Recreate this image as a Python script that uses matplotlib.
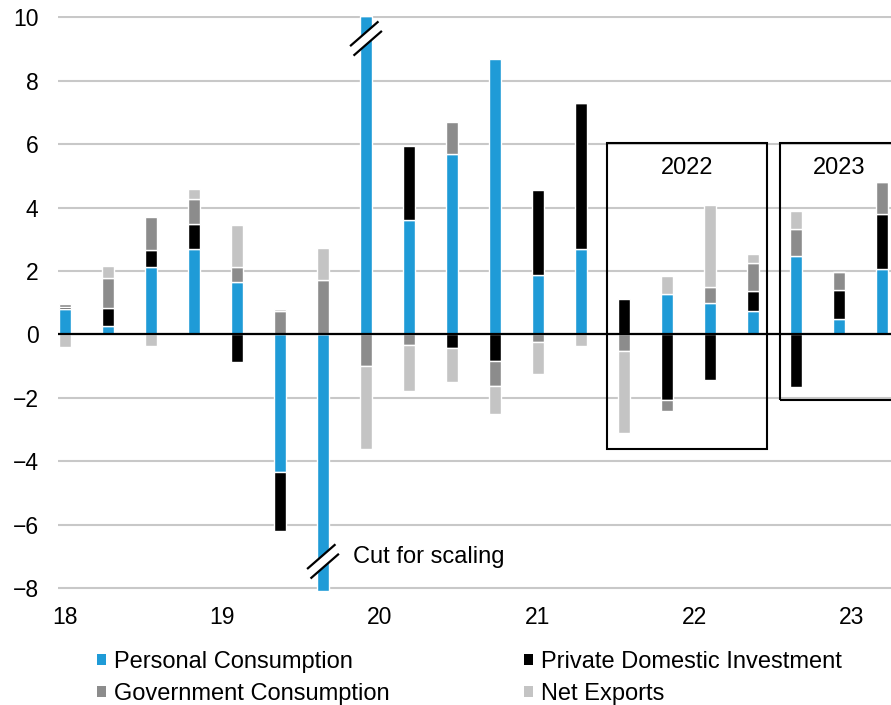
import numpy as np
import matplotlib
matplotlib.use('Agg')
import matplotlib.pyplot as plt
from matplotlib.patches import Patch, Rectangle, Polygon

plt.rcParams['font.family'] = ['Liberation Sans', 'DejaVu Sans']

# quarters shown, 2018Q4 .. 2023Q3 (contributions to GDP growth, pp)
quarters = ['2018Q4', '2019Q1', '2019Q2', '2019Q3', '2019Q4',
            '2020Q1', '2020Q2', '2020Q3', '2020Q4',
            '2021Q1', '2021Q2', '2021Q3', '2021Q4',
            '2022Q1', '2022Q2', '2022Q3', '2022Q4',
            '2023Q1', '2023Q2', '2023Q3']

# 2020Q2 / 2020Q3 personal consumption is cut at the axis limits
personal = [0.79, 0.27, 2.11, 2.69, 1.66, -4.33, -8.1, 10.05, 3.60, 5.68,
            8.69, 1.86, 2.68, 0.0, 1.26, 1.00, 0.73, 2.48, 0.48, 2.05]
investment = [0.06, 0.57, 0.54, 0.79, -0.88, -1.87, 0.0, 0.0, 2.35, -0.44,
              -0.83, 2.69, 4.62, 1.10, -2.07, -1.43, 0.63, -1.67, 0.92, 1.75]
government = [0.12, 0.95, 1.06, 0.79, 0.47, 0.73, 1.73, -1.00, -0.33, 1.03,
              -0.80, -0.24, 0.0, -0.53, -0.35, 0.50, 0.90, 0.83, 0.58, 1.00]
net_exports = [-0.41, 0.36, -0.37, 0.32, 1.32, 0.08, 1.00, -2.60, -1.45, -1.05,
               -0.87, -1.02, -0.36, -2.59, 0.58, 2.58, 0.26, 0.59, 0.0, 0.0]

series_names = ['Personal Consumption', 'Private Domestic Investment',
                'Government Consumption', 'Net Exports']
colors = ['#1f9bd7', '#000000', '#8c8c8c', '#c4c4c4']

year_labels = ['18', '19', '20', '21', '22', '23']
year_tick_pos = [0, 3.66, 7.32, 10.98, 14.64, 18.3]

x = np.arange(len(quarters))

fig = plt.figure(figsize=(8.91, 7.05), dpi=100)
ax = fig.add_axes([58 / 891, 1 - 591.2 / 705, 1 - 58 / 891, (591.2 - 15.7) / 705])

pos_base = np.zeros(len(x))
neg_base = np.zeros(len(x))
for vals, col in zip([personal, investment, government, net_exports], colors):
    v = np.array(vals)
    base = np.where(v >= 0, pos_base, neg_base)
    ax.bar(x, v, width=0.28, bottom=base, color=col, edgecolor='white',
           linewidth=1.0, zorder=2)
    pos_base += np.where(v > 0, v, 0)
    neg_base += np.where(v < 0, v, 0)

ax.set_xlim(-0.163, 19.21)
ax.set_ylim(-8.1, 10.05)
ax.set_yticks(range(-8, 11, 2))
ax.yaxis.grid(True, color='#c8c8c8', linewidth=1.5, zorder=0)
ax.set_axisbelow(True)
ax.axhline(0, color='black', linewidth=1.6, zorder=3)
for s in ax.spines.values():
    s.set_visible(False)
ax.set_xticks(year_tick_pos)
ax.set_xticklabels(year_labels)
ax.tick_params(axis='both', length=0, labelsize=16.5)
ax.tick_params(axis='y', pad=14)
ax.tick_params(axis='x', pad=11)


# break marks on the cut bars
def break_mark(xc, yc):
    l1 = [(xc - 0.37, yc + 0.15 - 0.39), (xc + 0.29, yc + 0.15 + 0.39)]
    l2 = [(xc - 0.29, yc - 0.15 - 0.39), (xc + 0.37, yc - 0.15 + 0.39)]
    ax.add_patch(Polygon([l1[0], l1[1], l2[1], l2[0]], closed=True,
                         facecolor='white', edgecolor='none', zorder=4))
    for ln in (l1, l2):
        ax.plot([ln[0][0], ln[1][0]], [ln[0][1], ln[1][1]], color='black',
                linewidth=1.6, solid_capstyle='butt', zorder=5)


break_mark(6, -7.16)
break_mark(7, 9.33)
ax.text(6.7, -7.03, 'Cut for scaling', fontsize=17, ha='left', va='center', zorder=6)

# year boxes
ax.add_patch(Rectangle((12.61, -3.63), 3.71, 9.66, fill=False, edgecolor='black',
                       linewidth=1.5, zorder=4))
ax.add_patch(Rectangle((16.63, -2.07), 4.0, 8.10, fill=False, edgecolor='black',
                       linewidth=1.5, zorder=4))
ax.text(14.46, 5.26, '2022', fontsize=17, ha='center', va='center')
ax.text(18.0, 5.26, '2023', fontsize=17, ha='center', va='center')

handles = [Patch(facecolor=c, edgecolor='none') for c in colors]
order = [0, 2, 1, 3]
fig.legend([handles[i] for i in order], [series_names[i] for i in order],
           ncol=2, loc='upper left', bbox_to_anchor=(97 / 891, 1 - 651 / 705),
           frameon=False, fontsize=17, handlelength=0.39, handleheight=0.39,
           handletextpad=0.35, columnspacing=5.67, labelspacing=0.42,
           borderpad=0, borderaxespad=0)

fig.savefig('out.png', dpi=100)
